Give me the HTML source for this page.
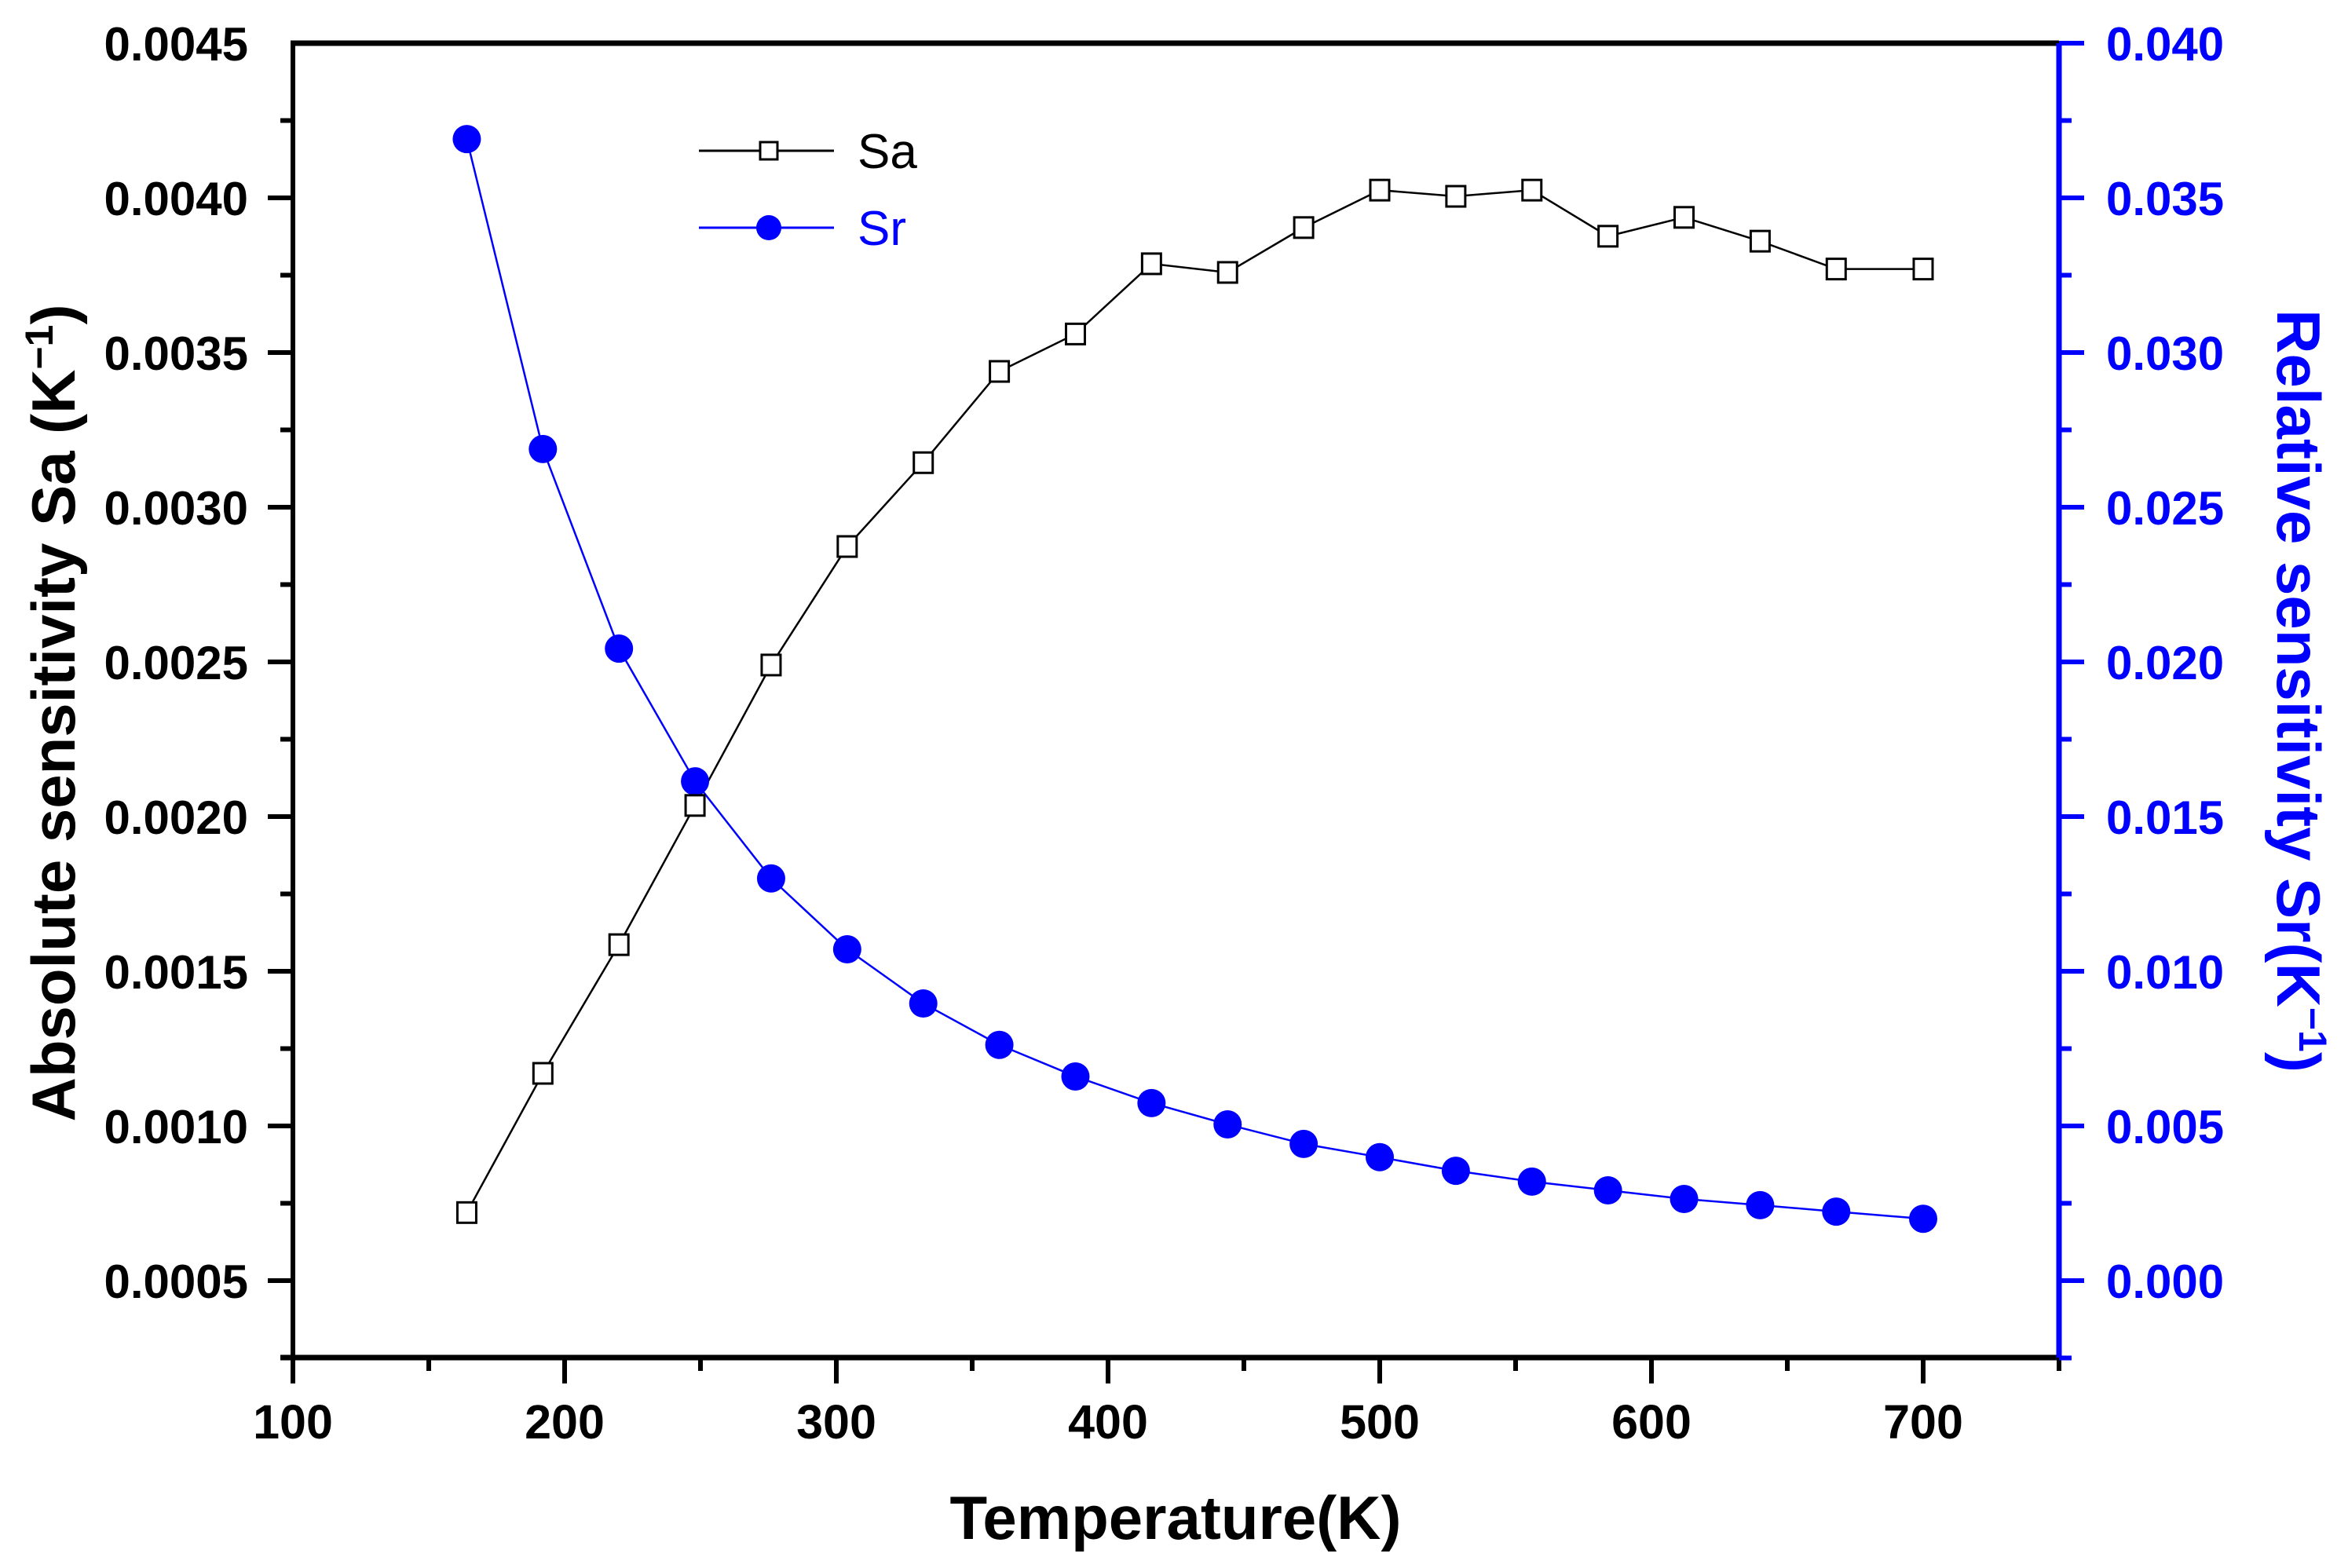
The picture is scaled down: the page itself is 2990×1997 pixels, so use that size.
<!DOCTYPE html>
<html><head><meta charset="utf-8"><style>
html,body{margin:0;padding:0;background:#fff;}
svg{display:block;}
text{font-family:"Liberation Sans",Arial,sans-serif;}
</style></head><body>
<svg id="chart" width="2990" height="1997" viewBox="0 0 2990 1997" xmlns="http://www.w3.org/2000/svg">
<rect width="2990" height="1997" fill="#fff"/>
<g id="grid-layer"></g>
<g id="series-layer"></g>
<g id="axes-layer"></g>
<g id="legend">
  <line x1="890" y1="192" x2="1062" y2="192" stroke="#000" stroke-width="3"/>
  <rect x="968" y="181" width="22" height="22" fill="#fff" stroke="#000" stroke-width="3"/>
  <text x="1092" y="214" font-size="62" fill="#000">Sa</text>
  <line x1="890" y1="290" x2="1062" y2="290" stroke="#0000ff" stroke-width="3"/>
  <circle cx="979" cy="290" r="16" fill="#0000ff"/>
  <text x="1092" y="312" font-size="62" fill="#0000ff">Sr</text>
</g>
<text x="1497" y="1960" font-size="78" font-weight="bold" text-anchor="middle" fill="#000">Temperature(K)</text>
<text transform="translate(95,908) rotate(-90)" font-size="78" font-weight="bold" text-anchor="middle" fill="#000">Absolute sensitivity Sa (K<tspan dy="-28" font-size="50">−1</tspan><tspan dy="28">)</tspan></text>
<text transform="translate(2900,880) rotate(90)" font-size="78" font-weight="bold" text-anchor="middle" fill="#0000ff">Relative sensitivity Sr(K<tspan dy="-28" font-size="50">−1</tspan><tspan dy="28">)</tspan></text>
</svg>
<script>
const temps = [164,192,220,248,276,304,332,360,388,416,444,472,500,528,556,584,612,640,668,700];
const saValues = [0.00072,0.00117,0.001586,0.002036,0.00249,0.002873,0.003144,0.003439,0.00356,0.003787,0.003759,0.003904,0.004025,0.004005,0.004025,0.003876,0.003937,0.00386,0.00377,0.00377];
const srValues = [0.0369,0.02688,0.02043,0.01614,0.0130,0.01071,0.00896,0.00762,0.0066,0.00574,0.00505,0.00442,0.00399,0.00355,0.0032,0.00292,0.00264,0.00244,0.00223,0.0020];
const xTicks = [100,200,300,400,500,600,700];
const leftTicks = ["0.0005","0.0010","0.0015","0.0020","0.0025","0.0030","0.0035","0.0040","0.0045"];
const rightTicks = ["0.000","0.005","0.010","0.015","0.020","0.025","0.030","0.035","0.040"];

const NS = "http://www.w3.org/2000/svg";
const L = 373, R = 2622, T = 55, B = 1729;
function xScale(t){ return L + (t - 100) / 650 * (R - L); }
function yLeft(v){ return T + (0.0045 - v) / 0.0005 * 197; }
function yRight(v){ return T + (0.040 - v) / 0.005 * 197; }
function mk(tag, attrs, parent){
  const e = document.createElementNS(NS, tag);
  for (const k in attrs) e.setAttribute(k, attrs[k]);
  parent.appendChild(e);
  return e;
}
const axes = document.getElementById('axes-layer');
const series = document.getElementById('series-layer');

// axis lines
let a;
a = mk('line',{x1:L-3,y1:T,x2:R,y2:T,stroke:'#000','stroke-width':7},axes);


a = mk('line',{x1:L,y1:T,x2:L,y2:B+3,stroke:'#000','stroke-width':6},axes);


a = mk('line',{x1:L-16,y1:B,x2:R,y2:B,stroke:'#000','stroke-width':7},axes);


a = mk('line',{x1:R,y1:T,x2:R,y2:B+3,stroke:'#0000ff','stroke-width':7},axes);



// x ticks
for (let t = 100; t <= 750; t += 50) {
  const major = t % 100 === 0;
  const x = xScale(t);
  const tk = mk('line',{x1:x,y1:B,x2:x,y2:B+(major?33:17),stroke:'#000','stroke-width':6},axes);
  
  
}
xTicks.forEach(function(t){
  const lb = mk('text',{x:xScale(t),y:1832,'font-size':61,'font-weight':'bold','text-anchor':'middle',fill:'#000'},axes);
  lb.textContent = t;
  
  
});
// left ticks
for (let i = 0; i <= 16; i++) {
  const v = 0.00025 + i * 0.00025;
  const y = yLeft(v);
  const major = i % 2 === 1;
  const tk = mk('line',{x1:L-(major?32:16),y1:y,x2:L,y2:y,stroke:'#000','stroke-width':6},axes);
  
  
}
leftTicks.forEach(function(s){
  const lb = mk('text',{x:316,y:yLeft(parseFloat(s))+22,'font-size':60,'font-weight':'bold','text-anchor':'end',fill:'#000'},axes);
  lb.textContent = s;
  
  
});
// right ticks
for (let i = 0; i <= 17; i++) {
  const v = -0.0025 + i * 0.0025;
  const y = yRight(v);
  const major = i % 2 === 1;
  const tk = mk('line',{x1:R,y1:y,x2:R+(major?32:16),y2:y,stroke:'#0000ff','stroke-width':6},axes);
  
  
}
rightTicks.forEach(function(s){
  const lb = mk('text',{x:2682,y:yRight(parseFloat(s))+22,'font-size':60,'font-weight':'bold','text-anchor':'start',fill:'#0000ff'},axes);
  lb.textContent = s;
  
  
});

// Sa series
const saPts = temps.map(function(t,i){ return xScale(t)+','+yLeft(saValues[i]); }).join(' ');
const saLine = mk('polyline',{points:saPts,fill:'none',stroke:'#000','stroke-width':2.5},series);


// Sr series
const srPts = temps.map(function(t,i){ return xScale(t)+','+yRight(srValues[i]); }).join(' ');
const srLine = mk('polyline',{points:srPts,fill:'none',stroke:'#0000ff','stroke-width':2.5},series);


temps.forEach(function(t,i){
  const c = mk('circle',{cx:xScale(t),cy:yRight(srValues[i]),r:18,fill:'#0000ff'},series);
  
  
});
temps.forEach(function(t,i){
  const r = mk('rect',{x:xScale(t)-12,y:yLeft(saValues[i])-13,width:24,height:26,fill:'#fff',stroke:'#000','stroke-width':3},series);
  
  
});
</script>
</body></html>
